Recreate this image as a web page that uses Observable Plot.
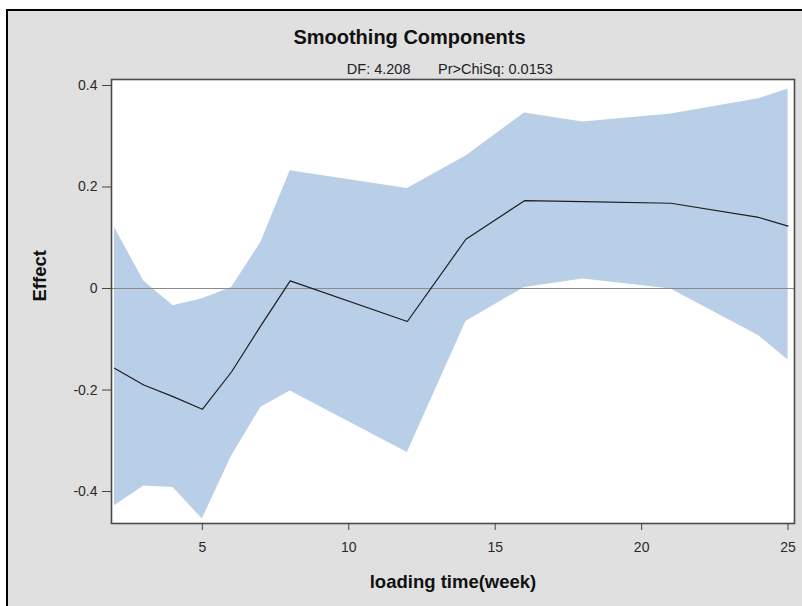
<!DOCTYPE html>
<html>
<head>
<meta charset="utf-8">
<script src="https://cdn.jsdelivr.net/npm/d3@7"></script>
<script src="https://cdn.jsdelivr.net/npm/@observablehq/plot@0.6"></script>
<style>
  html, body { margin: 0; padding: 0; background: #ffffff; }
  #wrap { position: relative; width: 802px; height: 606px; overflow: hidden; background: #ffffff; }
  #panel { position: absolute; left: 6px; top: 9px; right: -4px; bottom: -4px;
           background: #e0e0e0; border-top: 2px solid #000; border-left: 2px solid #000; }
  #chart { position: absolute; left: 0; top: 0; }
</style>
</head>
<body>
<div id="wrap"><div id="panel"></div><div id="chart"></div></div>
<script>
// Data
const weeks  = [2, 3, 4, 5, 6, 7, 8, 12, 14, 16, 18, 21, 24, 25];
const effect = [-0.157, -0.190, -0.213, -0.238, -0.164, -0.073, 0.015, -0.065, 0.097, 0.173, 0.171, 0.168, 0.140, 0.123];
const upper  = [0.120, 0.015, -0.034, -0.020, 0.002, 0.091, 0.232, 0.197, 0.261, 0.346, 0.328, 0.344, 0.374, 0.393];
const lower  = [-0.428, -0.389, -0.392, -0.454, -0.330, -0.234, -0.202, -0.323, -0.065, 0.002, 0.0185, -0.001, -0.093, -0.141];
const xTicks = [5, 10, 15, 20, 25];
const yTicks = [-0.4, -0.2, 0, 0.2, 0.4];

const titleText = "Smoothing Components";
const dfText = "DF: 4.208";
const chiText = "Pr>ChiSq: 0.0153";
const xLabel = "loading time(week)";
const yLabel = "Effect";

const rows = weeks.map((w, i) => ({week: w, effect: effect[i], upper: upper[i], lower: lower[i]}));

const font = "'Liberation Sans', Arial, Helvetica, sans-serif";

const chart = Plot.plot({
  width: 802,
  height: 606,
  marginLeft: 111,
  marginTop: 79,
  marginRight: 8,
  marginBottom: 83,
  style: {background: "transparent", fontFamily: font, overflow: "visible"},
  x: {domain: [1.898, 25.22]},
  y: {domain: [-0.463, 0.4118]},
  marks: [
    Plot.frame({fill: "#ffffff", stroke: "none"}),
    Plot.areaY(rows, {x: "week", y1: "lower", y2: "upper", fill: "#b9cfe7", fillOpacity: 1}),
    Plot.ruleY([0], {stroke: "#8a8a8a", strokeWidth: 1}),
    Plot.lineY(rows, {x: "week", y: "effect", stroke: "#1e1e1e", strokeWidth: 1.2}),
    Plot.frame({stroke: "#4a4a4a", strokeWidth: 1.6}),
    Plot.axisX(xTicks, {ticks: xTicks, tickSize: 7, tickPadding: 12, fontSize: 14, stroke: "#444", fill: "#2a2a2a", label: null, tickFormat: d => String(d)}),
    Plot.axisY(yTicks, {ticks: yTicks, tickSize: 9, tickPadding: 5, fontSize: 14, stroke: "#444", fill: "#2a2a2a", label: null, tickFormat: d => d === 0 ? "0" : d.toFixed(1)}),
    Plot.text([titleText], {frameAnchor: "top", dx: -43.5, dy: -42, text: d => d, fontSize: 20, fontWeight: "bold", fill: "#111", lineAnchor: "middle"}),
    Plot.text([dfText], {frameAnchor: "top", dx: -42.5, dy: -10.5, text: d => d, fontSize: 14.5, fill: "#222", textAnchor: "end", lineAnchor: "middle"}),
    Plot.text([chiText], {frameAnchor: "top", dx: -15, dy: -10.5, text: d => d, fontSize: 14.5, fill: "#222", textAnchor: "start", lineAnchor: "middle"}),
    Plot.text([xLabel], {frameAnchor: "bottom", dy: 59, text: d => d, fontSize: 18.5, fontWeight: "bold", fill: "#111", lineAnchor: "middle"}),
    Plot.text([yLabel], {frameAnchor: "left", dx: -71, rotate: -90, text: d => d, fontSize: 18.5, fontWeight: "bold", fill: "#111", lineAnchor: "middle"})
  ]
});
document.getElementById("chart").appendChild(chart);
</script>
</body>
</html>
